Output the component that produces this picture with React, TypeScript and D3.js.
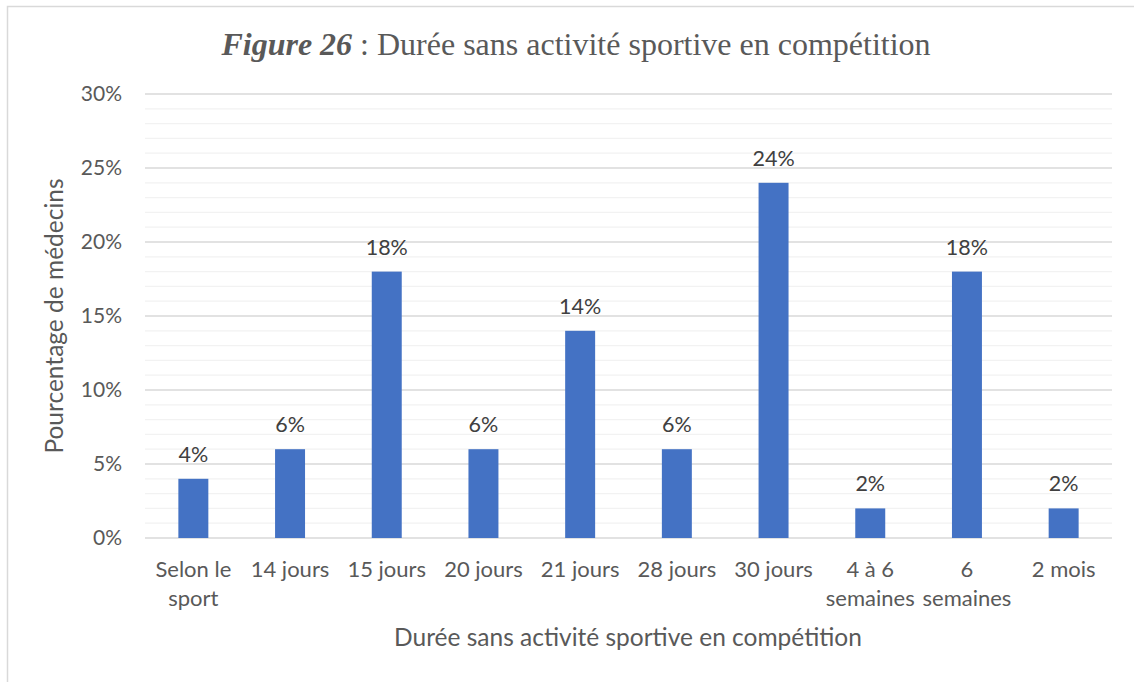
import React, { useEffect, useRef } from "react";
import * as d3 from "d3";

const categories = [
  "Selon le sport",
  "14 jours",
  "15 jours",
  "20 jours",
  "21 jours",
  "28 jours",
  "30 jours",
  "4 à 6 semaines",
  "6 semaines",
  "2 mois",
];
const values = [4, 6, 18, 6, 14, 6, 24, 2, 18, 2];
const majorTicks = [0, 5, 10, 15, 20, 25, 30];
const minorTicks = d3.range(0, 31, 1);
const titleBold = "Figure 26";
const titleRest = " : Durée sans activité sportive en compétition";
const xTitle = "Durée sans activité sportive en compétition";
const yTitle = "Pourcentage de médecins";

const W = 1134;
const H = 682;
const FONT = "Lato, 'Open Sans', sans-serif";
const FS = 21;

export default function App() {
  const ref = useRef<SVGSVGElement>(null);

  useEffect(() => {
    const svg = d3.select(ref.current);
    svg.selectAll("*").remove();

    const left = 145, right = 1112, top = 94, bottom = 538;
    const x = d3
      .scaleBand<string>()
      .domain(categories)
      .range([left, right])
      .paddingInner(0.69)
      .paddingOuter(0.345);
    const y = d3.scaleLinear().domain([0, 30]).range([bottom, top]);

    svg.append("rect")
      .attr("x", 7.5).attr("y", 6.5)
      .attr("width", 1140).attr("height", 700)
      .attr("fill", "#fff").attr("stroke", "#d9d9d9").attr("stroke-width", 1.5);

    svg.append("g").selectAll("line")
      .data(minorTicks.filter((t) => t % 5 !== 0))
      .join("line")
      .attr("x1", left).attr("x2", right)
      .attr("y1", (d) => y(d)).attr("y2", (d) => y(d))
      .attr("stroke", "#f2f2f2").attr("stroke-width", 1.3);

    svg.append("g").selectAll("line")
      .data(majorTicks)
      .join("line")
      .attr("x1", left).attr("x2", right)
      .attr("y1", (d) => y(d)).attr("y2", (d) => y(d))
      .attr("stroke", "#d9d9d9").attr("stroke-width", 1.3);

    svg.append("g").selectAll("text")
      .data(majorTicks)
      .join("text")
      .attr("x", 122).attr("y", (d) => y(d))
      .attr("dy", "0.35em")
      .attr("text-anchor", "end")
      .attr("font-family", FONT).attr("font-size", FS)
      .attr("fill", "#595959")
      .text((d) => `${d}%`);

    svg.append("g").selectAll("rect")
      .data(values)
      .join("rect")
      .attr("x", (_, i) => x(categories[i])!)
      .attr("width", x.bandwidth())
      .attr("y", (d) => y(d))
      .attr("height", (d) => y(0) - y(d))
      .attr("fill", "#4472c4");

    svg.append("g").selectAll("text")
      .data(values)
      .join("text")
      .attr("x", (_, i) => x(categories[i])! + x.bandwidth() / 2)
      .attr("y", (d) => y(d) - 17)
      .attr("text-anchor", "middle")
      .attr("font-family", FONT).attr("font-size", FS + 0.5)
      .attr("fill", "#404040")
      .text((d) => `${d}%`);

    const step = x.step();
    const catG = svg.append("g");
    categories.forEach((c, i) => {
      const cx = x(c)! + x.bandwidth() / 2;
      const t = catG.append("text")
        .attr("x", cx).attr("y", 577)
        .attr("text-anchor", "middle")
        .attr("font-family", FONT).attr("font-size", 22)
        .attr("fill", "#595959");
      const words = c.split(" ");
      const lines: string[] = [];
      let cur = "";
      const probe = t.append("tspan");
      words.forEach((w) => {
        const test = cur ? cur + " " + w : w;
        probe.text(test);
        const len = (probe.node() as SVGTSpanElement).getComputedTextLength();
        if (len > step - 2 && cur) {
          lines.push(cur);
          cur = w;
        } else {
          cur = test;
        }
      });
      lines.push(cur);
      probe.remove();
      lines.forEach((l, k) => {
        t.append("tspan").attr("x", cx).attr("y", 577 + k * 29).text(l);
      });
    });

    svg.append("text")
      .attr("x", 628).attr("y", 646)
      .attr("text-anchor", "middle")
      .attr("font-family", FONT).attr("font-size", 24.5)
      .attr("fill", "#595959")
      .text(xTitle);

    svg.append("text")
      .attr("transform", `translate(63,316) rotate(-90)`)
      .attr("text-anchor", "middle")
      .attr("font-family", FONT).attr("font-size", 24.5)
      .attr("fill", "#595959")
      .text(yTitle);

    const tt = svg.append("text")
      .attr("x", 576).attr("y", 55)
      .attr("text-anchor", "middle")
      .attr("font-family", "'Liberation Serif', 'Times New Roman', serif")
      .attr("font-size", 32)
      .attr("fill", "#595959");
    tt.append("tspan").attr("font-weight", "bold").attr("font-style", "italic").text(titleBold);
    tt.append("tspan").text(titleRest);
  }, []);

  return (
    <svg
      ref={ref}
      width={W}
      height={H}
      style={{ position: "absolute", left: 0, top: 0, background: "#fff" }}
    />
  );
}
